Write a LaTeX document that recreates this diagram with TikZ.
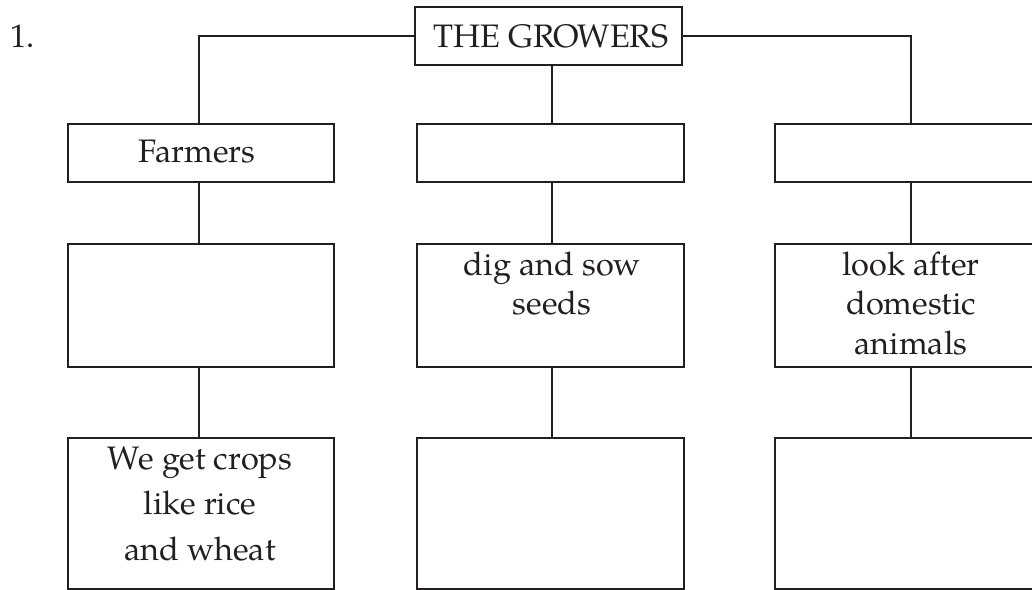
\documentclass[tikz,border=0pt]{standalone}
\usepackage{fontspec}
\setmainfont{TeX Gyre Pagella}
\definecolor{ink}{RGB}{35,31,32}
\begin{document}
\begin{tikzpicture}[x=1pt,y=-1pt,
  box/.style={draw=ink,line width=2pt,rectangle,inner sep=0pt,minimum width=#1},
  box/.default=267pt,
  conn/.style={draw=ink,line width=2pt},
  txt/.style={text=ink,inner sep=0pt,anchor=base,font=\fontsize{32.5}{39.5}\selectfont},
]
\useasboundingbox (0,0) rectangle (1032,589);
\clip (0,0) rectangle (1032,589);
% title number
\node[txt,anchor=base west] (num) at (10,47) {1.};
% top box
\node[box,minimum height=58pt] (top) at (548.5,36) {};
\node[txt] (toptxt) at (551,47) {THE GROWERS};
% row 1
\node[box=266pt,minimum height=58pt] (l1) at (201,153) {};
\node[box,minimum height=58pt] (m1) at (550.5,153) {};
\node[box=270pt,minimum height=58pt] (r1) at (909.5,153) {};
\node[txt] (l1txt) at (197,162) {Farmers};
% row 2
\node[box=266pt,minimum height=123pt] (l2) at (201,305.5) {};
\node[box,minimum height=123pt] (m2) at (550.5,305.5) {};
\node[box=270pt,minimum height=123pt] (r2) at (909.5,305.5) {};
\node[txt] (m2txt) at (552,275) {\begin{tabular}[t]{@{}c@{}}dig and sow\\seeds\end{tabular}};
\node[txt] (r2txt) at (911,275) {\begin{tabular}[t]{@{}c@{}}look after\\domestic\\animals\end{tabular}};
% row 3
\node[box=266pt,minimum height=150.5pt] (l3) at (201,513.25) {};
\node[box,minimum height=150.5pt] (m3) at (550.5,513.25) {};
\node[box=270pt,minimum height=150.5pt] (r3) at (909.5,513.25) {};
\node[txt,font=\fontsize{32.5}{45.5}\selectfont] (l3txt) at (200,469) {\begin{tabular}[t]{@{}c@{}}We get crops\\like rice\\and wheat\end{tabular}};
% connectors
\coordinate (lx) at (199,0);
\coordinate (mx) at (552,0);
\coordinate (rx) at (911,0);
\draw[conn] (top.west) -| (lx |- l1.north);
\draw[conn] (top.east) -| (rx |- r1.north);
\draw[conn] (mx |- top.south) -- (mx |- m1.north);
\draw[conn] (lx |- l1.south) -- (lx |- l2.north);
\draw[conn] (mx |- m1.south) -- (mx |- m2.north);
\draw[conn] (rx |- r1.south) -- (rx |- r2.north);
\draw[conn] (lx |- l2.south) -- (lx |- l3.north);
\draw[conn] (mx |- m2.south) -- (mx |- m3.north);
\draw[conn] (rx |- r2.south) -- (rx |- r3.north);
\end{tikzpicture}
\end{document}
